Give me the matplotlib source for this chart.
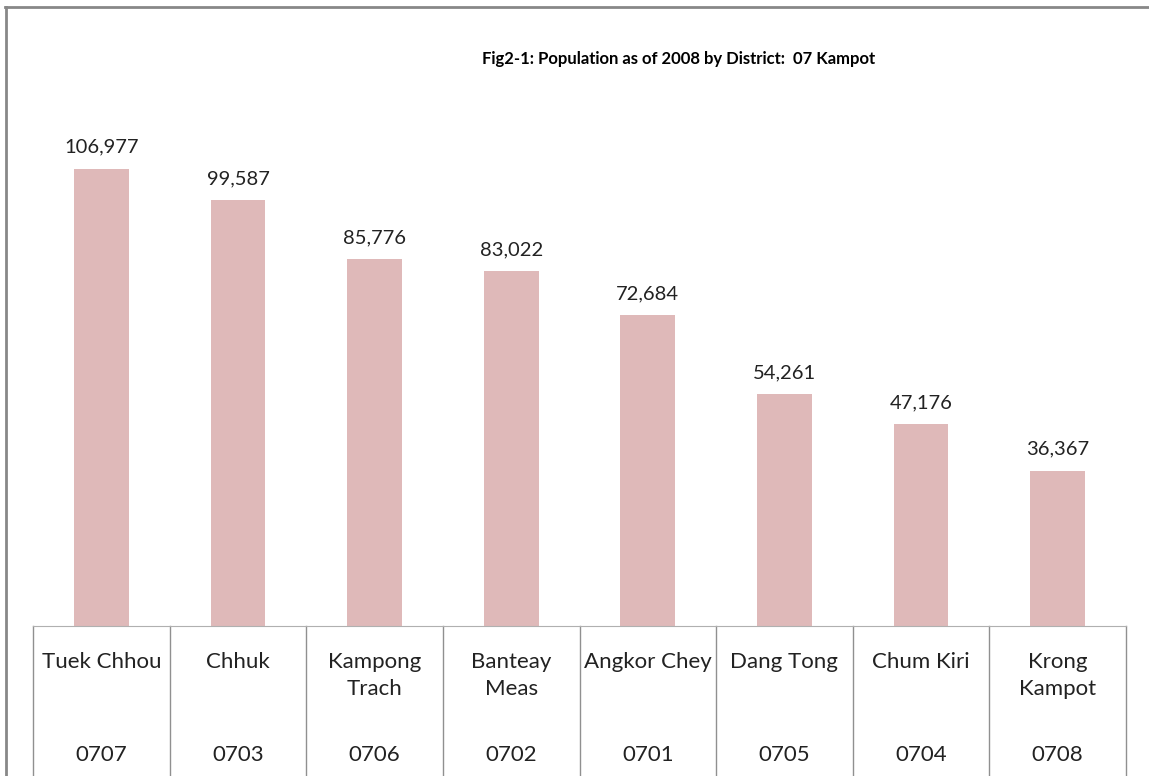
import numpy as np
import matplotlib
matplotlib.use('Agg')
from matplotlib import pyplot as plt
from matplotlib.lines import Line2D
import matplotlib.transforms as mtransforms

districts = ['Tuek Chhou', 'Chhuk', 'Kampong\nTrach', 'Banteay\nMeas', 'Angkor Chey',
             'Dang Tong', 'Chum Kiri', 'Krong\nKampot']
codes = ['0707', '0703', '0706', '0702', '0701', '0705', '0704', '0708']
population = [106977, 99587, 85776, 83022, 72684, 54261, 47176, 36367]

plt.rcParams['font.family'] = ['Lato', 'DejaVu Sans']

fig = plt.figure(figsize=(11.49, 7.76), dpi=100)
ax = fig.add_axes([33 / 1149, 150 / 776, 1093 / 1149, 513 / 776])

x = np.arange(len(districts))
ax.bar(x, population, width=0.4, color='#dfb9b9')
for xi, v in zip(x, population):
    ax.text(xi, v + 3000, f'{v:,}', ha='center', va='bottom', fontsize=14.5, color='#222222')

ax.set_xlim(-0.5, len(districts) - 0.5)
ax.set_ylim(0, 120000)
ax.set_xticks([])
ax.set_yticks([])
for s in ['left', 'right', 'top']:
    ax.spines[s].set_visible(False)
ax.spines['bottom'].set_color('#b0b0b0')

# table under the bars
trans = mtransforms.blended_transform_factory(ax.transData, ax.transAxes)
for b in np.arange(-0.5, len(districts), 1.0):
    ax.plot([b, b], [0, -0.32], transform=trans, color='#909090', lw=1, clip_on=False)
for xi, name, code in zip(x, districts, codes):
    ax.text(xi, -0.05, name, transform=trans, ha='center', va='top', fontsize=16,
            color='#222222', linespacing=1.45)
    ax.text(xi, -0.252, code, transform=trans, ha='center', va='center', fontsize=16,
            color='#222222')

fig.text(679 / 1149, 1 - 59 / 776, 'Fig2-1: Population as of 2008 by District:  07 Kampot',
         ha='center', va='center', fontsize=12, fontweight='bold')

# outer frame (only left and top visible)
fig.lines.append(Line2D([6 / 1149, 6 / 1149], [0, 1 - 7 / 776], transform=fig.transFigure,
                        color='#888888', lw=2))
fig.lines.append(Line2D([5 / 1149, 1], [1 - 7 / 776, 1 - 7 / 776], transform=fig.transFigure,
                        color='#888888', lw=2))

fig.savefig('out.png', dpi=100)
